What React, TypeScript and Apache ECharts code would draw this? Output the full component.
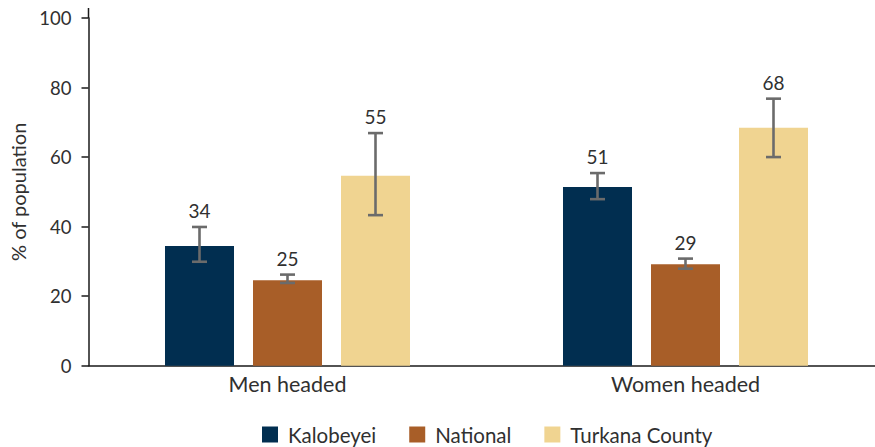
import React, { useEffect, useRef } from "react";
import * as echarts from "echarts";

const categories = ["Men headed", "Women headed"];
const seriesNames = ["Kalobeyei", "National", "Turkana County"];
const kalobeyei = [34.4, 51.4];
const national = [24.6, 29.2];
const turkana = [54.6, 68.4];
const kalobeyeiLow = [29.9, 47.9];
const kalobeyeiHigh = [39.9, 55.4];
const nationalLow = [23.8, 27.9];
const nationalHigh = [26.2, 30.8];
const turkanaLow = [43.3, 60.0];
const turkanaHigh = [66.9, 76.8];
const yTicks = [0, 20, 40, 60, 80, 100];

const colors = ["#012e50", "#a85e28", "#f0d491"];
const FONT = "Lato";
const TEXT = "#303030";
const BAR_W = 69;
const BAR_GAP = 19;

export default function App() {
  const ref = useRef<HTMLDivElement>(null);
  useEffect(() => {
    document.body.style.margin = "0";
    const chart = echarts.init(ref.current!, null, { renderer: "svg" });
    const values = [kalobeyei, national, turkana];
    const lows = [kalobeyeiLow, nationalLow, turkanaLow];
    const highs = [kalobeyeiHigh, nationalHigh, turkanaHigh];

    const barSeries = seriesNames.map((name, i) => ({
      name,
      type: "bar",
      data: values[i],
      barWidth: BAR_W,
      barGap: ((BAR_GAP / BAR_W) * 100).toFixed(2) + "%",
      itemStyle: { color: colors[i] },
      z: 2,
    }));

    const errSeries = seriesNames.map((name, i) => ({
      name: name + "-err",
      type: "custom",
      z: 5,
      data: categories.map((_, c) => [c, lows[i][c], highs[i][c], values[i][c]]),
      encode: { x: 0, y: [1, 2] },
      renderItem: (params: any, api: any) => {
        const c = api.value(0);
        const lo = api.coord([c, api.value(1)]);
        const hi = api.coord([c, api.value(2)]);
        const off = (i - 1) * (BAR_W + BAR_GAP);
        const x = lo[0] + off;
        const half = 7.5;
        const st = { stroke: "#6b6b6b", lineWidth: 2.6 };
        return {
          type: "group",
          children: [
            { type: "line", shape: { x1: x, y1: hi[1], x2: x, y2: lo[1] }, style: st },
            { type: "line", shape: { x1: x - half, y1: hi[1], x2: x + half, y2: hi[1] }, style: st },
            { type: "line", shape: { x1: x - half, y1: lo[1], x2: x + half, y2: lo[1] }, style: st },
            {
              type: "text",
              x: x,
              y: hi[1] - 7,
              style: {
                text: String(Math.round(api.value(3))),
                fill: TEXT,
                font: `19px ${FONT}`,
                align: "center",
                verticalAlign: "bottom",
              },
            },
          ],
        };
      },
    }));

    chart.setOption({
      animation: false,
      textStyle: { fontFamily: FONT },
      grid: { left: 88.5, top: 18, width: 796, bottom: 81.3, containLabel: false },
      legend: {
        data: seriesNames,
        left: 262,
        top: 424,
        padding: 0,
        itemWidth: 16,
        itemHeight: 16,
        itemGap: 33,
        icon: "rect",
        textStyle: { fontSize: 20.5, color: TEXT, fontFamily: FONT, padding: [0, 0, 0, 5] },
      },
      xAxis: {
        type: "category",
        data: categories,
        axisLine: { lineStyle: { color: "#1a1a1a", width: 1.5 } },
        axisTick: { show: false },
        axisLabel: { fontSize: 21.5, color: TEXT, margin: 7, fontFamily: FONT },
      },
      yAxis: {
        type: "value",
        min: yTicks[0],
        max: yTicks[yTicks.length - 1],
        interval: yTicks[1] - yTicks[0],
        name: "% of population",
        nameLocation: "middle",
        nameGap: 60,
        nameTextStyle: { fontSize: 20, color: TEXT, fontFamily: FONT },
        axisLine: { show: true, lineStyle: { color: "#1a1a1a", width: 1.5 } },
        axisTick: { show: true, length: 7, lineStyle: { color: "#1a1a1a", width: 1.5 } },
        axisLabel: { fontSize: 18.5, color: TEXT, margin: 17, fontFamily: FONT },
        splitLine: { show: false },
      },
      graphic: [
        {
          type: "line",
          shape: { x1: 88.5, y1: 8, x2: 88.5, y2: 18 },
          style: { stroke: "#1a1a1a", lineWidth: 1.5 },
        },
      ],
      series: [...barSeries, ...errSeries],
    });
    return () => chart.dispose();
  }, []);
  return (
    <div style={{ width: 875, height: 447, overflow: "hidden", position: "relative" }}>
      <div ref={ref} style={{ width: 890, height: 447 }} />
    </div>
  );
}
